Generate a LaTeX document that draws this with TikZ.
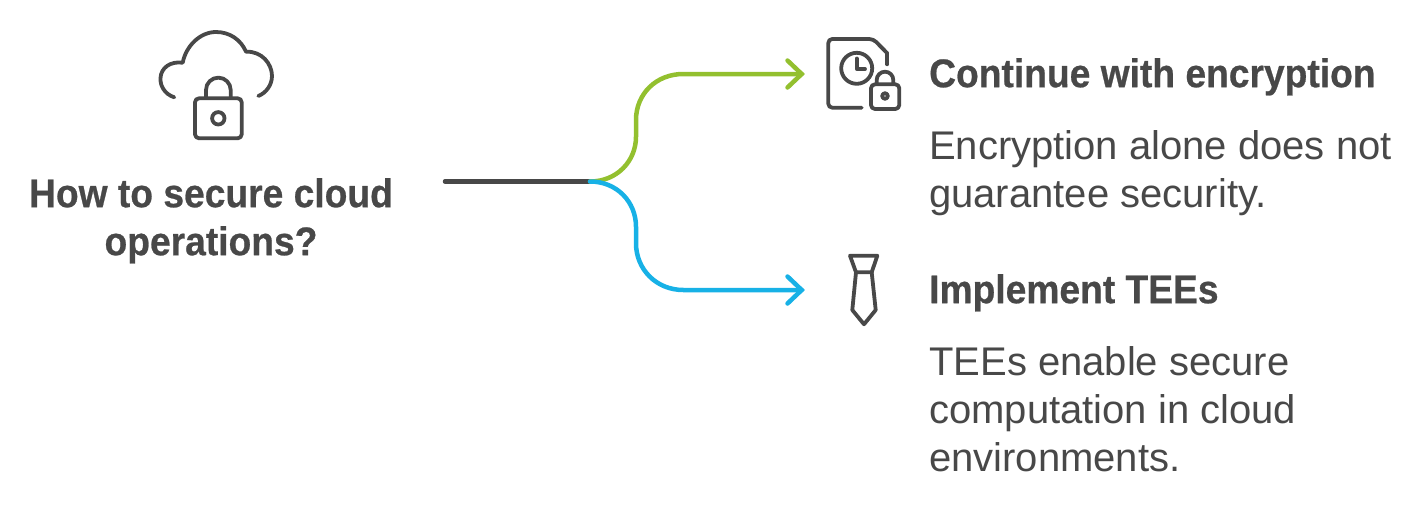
\documentclass[tikz,border=0pt]{standalone}
\usepackage{fontspec}
\setmainfont{Liberation Sans}[BoldFeatures={FakeStretch=0.93,FakeBold=0.6}]
\definecolor{inkgray}{HTML}{484848}
\definecolor{leafgreen}{HTML}{93C02F}
\definecolor{skyblue}{HTML}{17B1E6}
\begin{document}
\begin{tikzpicture}[x=1pt,y=-1pt,
  icon/.style={draw=inkgray,line width=3.8pt,line cap=round,line join=round},
  conn/.style={line width=4.5pt,line cap=round,line join=round},
  head/.style={line width=4.5pt,line cap=round,line join=miter},
  headtext/.style={anchor=north west,inner sep=0pt,align=left,text=inkgray,font=\fontsize{40}{48}\selectfont\bfseries},
  bodytext/.style={anchor=north west,inner sep=0pt,align=left,text=inkgray,font=\fontsize{40}{48}\selectfont}]
\useasboundingbox (0,0) rectangle (1428,506);
% cloud + lock icon
\draw[icon] (174.3,97.3) .. controls (164,94) and (160,85) .. (160.5,78) .. controls (161,68) and (170,61) .. (182.7,62.7)
  .. controls (186,46) and (200,32) .. (216,32) .. controls (230,32) and (241,40) .. (246,51.7)
  .. controls (262,51) and (272,64) .. (272,76) .. controls (272,85) and (266,93) .. (258.3,96);
\draw[icon,rounded corners=4pt] (195,98.3) rectangle (241.7,138.3);
\draw[icon] (206,98) -- (206,90) arc[start angle=180,end angle=360,radius=12.35] -- (230.7,98);
\draw[icon] (218.3,118.3) circle[radius=6.2];
% connectors
\coordinate (src) at (445,181.5);
\coordinate (fork) at (590,181.5);
\coordinate (tipA) at (801.7,74);
\coordinate (tipB) at (801.7,290);
\draw[conn,inkgray] (src) -- (fork);
\draw[conn,leafgreen] (fork) .. controls (617,181.5) and (636,161) .. (636,136.7) -- (636,120)
  .. controls (636,94) and (656,74) .. (683.3,74) -- (tipA);
\draw[head,leafgreen] (787.5,60.5) -- (tipA) -- (787.5,87.5);
\draw[conn,skyblue] (fork) .. controls (617,181.5) and (636,202) .. (636,226.7) -- (636,243.3)
  .. controls (636,269) and (656,290) .. (683.3,290) -- (tipB);
\draw[head,skyblue] (787.5,276.5) -- (tipB) -- (787.5,303.5);
% file icon
\draw[icon,rounded corners=4pt] (861.7,107.7) -- (828.3,107.7) -- (828.3,39) -- (873.3,39) -- (887.3,53.3);
\draw[icon] (887.3,53.3) -- (887.3,64.3);
\draw[icon] (856.7,68.3) circle[radius=15.5];
\draw[icon] (856.7,58.5) -- (856.7,69) -- (865,69);
\draw[icon,rounded corners=4pt] (871,84.3) rectangle (899.3,109);
\draw[icon] (876.7,84) -- (876.7,80) arc[start angle=180,end angle=360,radius=8.3] -- (893.3,84);
\draw[icon] (885,96) circle[radius=2.8];
% tie icon
\draw[icon] (850,255.7) -- (877.3,255.7) -- (871.7,272.3) -- (856,272.3) -- cycle;
\draw[icon] (856,272.3) -- (852.3,310) -- (864,324.3) -- (875.7,310) -- (871.7,272.3);
% texts
\node[headtext,align=center,anchor=north] (question) at (211,178) {How to secure cloud\\operations?};
\node[headtext] (titleA) at (929,58) {Continue with encryption};
\node[bodytext] (bodyA) at (929,130) {Encryption alone does not\\guarantee security.};
\node[headtext] (titleB) at (929,274) {Implement TEEs};
\node[bodytext] (bodyB) at (929,346) {TEEs enable secure\\computation in cloud\\environments.};
\end{tikzpicture}
\end{document}
